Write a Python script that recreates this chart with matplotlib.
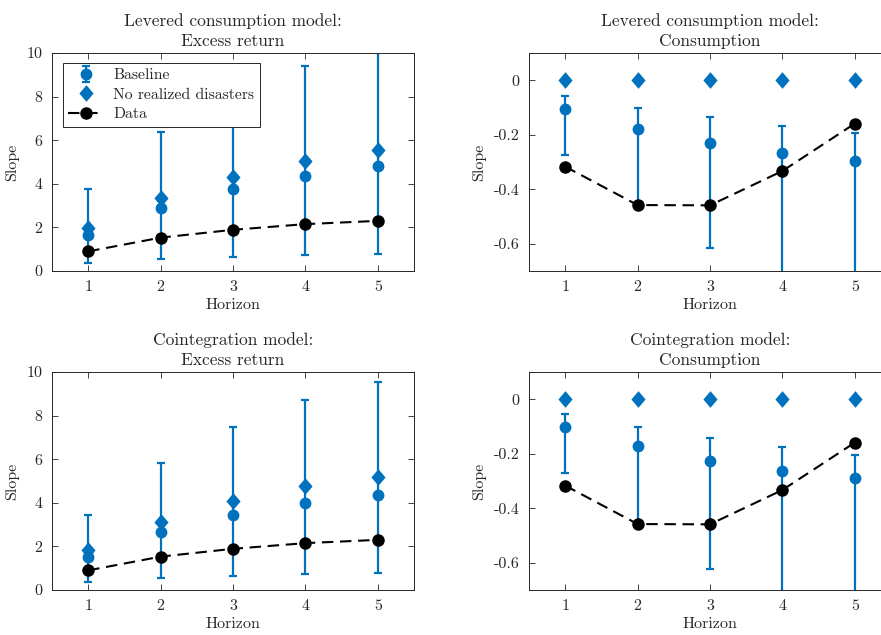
"""
Slopes by horizon: model simulations vs. data
"""
import numpy as np
import matplotlib
matplotlib.use('Agg')
import matplotlib.pyplot as plt
from matplotlib.path import Path

# Fonte estilo LaTeX
plt.rcParams['font.family'] = 'serif'
plt.rcParams['font.serif'] = ['cmr10']
plt.rcParams['axes.formatter.use_mathtext'] = True
plt.rcParams['font.size'] = 11.5

azul = '#0072BD'
horizon = [1, 2, 3, 4, 5]

# Dados (mesmos nos dois modelos)
data_ret = [0.90, 1.53, 1.89, 2.15, 2.30]
data_cons = [-0.317, -0.458, -0.459, -0.333, -0.159]

# Levered consumption model
lev_ret_med = [1.67, 2.87, 3.74, 4.36, 4.80]
lev_ret_lo = [0.35, 0.54, 0.66, 0.72, 0.80]
lev_ret_hi = [3.76, 6.37, 8.10, 9.42, 10.60]
lev_ret_nodis = [1.95, 3.33, 4.33, 5.05, 5.55]

lev_cons_med = [-0.105, -0.178, -0.232, -0.268, -0.295]
lev_cons_lo = [-0.273, -0.465, -0.616, -0.85, -0.85]
lev_cons_hi = [-0.057, -0.100, -0.134, -0.167, -0.193]
lev_cons_nodis = [0.0, 0.0, 0.0, 0.0, 0.0]

# Cointegration model
coi_ret_med = [1.53, 2.65, 3.42, 3.97, 4.36]
coi_ret_lo = [0.35, 0.57, 0.66, 0.72, 0.77]
coi_ret_hi = [3.45, 5.83, 7.48, 8.70, 9.52]
coi_ret_nodis = [1.84, 3.14, 4.10, 4.77, 5.20]

coi_cons_med = [-0.101, -0.172, -0.225, -0.264, -0.289]
coi_cons_lo = [-0.272, -0.473, -0.622, -0.85, -0.85]
coi_cons_hi = [-0.055, -0.101, -0.143, -0.176, -0.205]
coi_cons_nodis = [0.0, 0.0, 0.0, 0.0, 0.0]

ret_ticks = [0, 2, 4, 6, 8, 10]
ret_labels = ['0', '2', '4', '6', '8', '10']
cons_ticks = [0, -0.2, -0.4, -0.6]
cons_labels = ['0', '-0.2', '-0.4', '-0.6']

# losango um pouco mais alto que largo
losango = Path([(0, 1), (0.85, 0), (0, -1), (-0.85, 0), (0, 1)],
               [Path.MOVETO, Path.LINETO, Path.LINETO, Path.LINETO, Path.CLOSEPOLY])


def painel(ax, med, lo, hi, nodis, data, titulo, yticks, ylabels, ylim):
    med = np.array(med)
    err = [med - np.array(lo), np.array(hi) - med]
    hb = ax.errorbar(horizon, med, yerr=err, fmt='o', color=azul, ms=7.5,
                     elinewidth=1.6, capsize=2.8, capthick=1.6, zorder=2)
    hd, = ax.plot(horizon, nodis, ls='none', marker=losango, color=azul,
                  ms=12, mew=0, zorder=3)
    hk, = ax.plot(horizon, data, '--o', color='k', lw=1.5, ms=8,
                  dashes=(5.5, 3.2), zorder=4)
    ax.set_xlim(0.5, 5.5)
    ax.set_ylim(*ylim)
    ax.set_xticks(horizon)
    ax.set_xticklabels([str(h) for h in horizon])
    ax.set_yticks(yticks)
    ax.set_yticklabels(ylabels)
    ax.tick_params(direction='in', top=True, right=True, length=4,
                   width=0.6, color='#262626', labelcolor='#262626', pad=7)
    for s in ax.spines.values():
        s.set_linewidth(0.7)
        s.set_color('#262626')
    ax.set_xlabel('Horizon', color='#262626', labelpad=3)
    ax.set_ylabel('Slope', color='#262626', labelpad=5)
    ax.set_title(titulo, color='#262626', fontsize=12.5, linespacing=1.38, pad=5)
    return [hb, hd, hk]


fig = plt.figure(figsize=(8.81, 6.35), dpi=100)
W, H = 881.0, 635.0
ax1 = fig.add_axes([52 / W, (H - 271) / H, 362 / W, 218 / H])
ax2 = fig.add_axes([529 / W, (H - 271) / H, 362 / W, 218 / H])
ax3 = fig.add_axes([52 / W, (H - 590) / H, 362 / W, 218 / H])
ax4 = fig.add_axes([529 / W, (H - 590) / H, 362 / W, 218 / H])

handles = painel(ax1, lev_ret_med, lev_ret_lo, lev_ret_hi, lev_ret_nodis, data_ret,
                 'Levered consumption model:\nExcess return', ret_ticks, ret_labels, (0, 10))
painel(ax2, lev_cons_med, lev_cons_lo, lev_cons_hi, lev_cons_nodis, data_cons,
       'Levered consumption model:\nConsumption', cons_ticks, cons_labels, (-0.7, 0.1))
painel(ax3, coi_ret_med, coi_ret_lo, coi_ret_hi, coi_ret_nodis, data_ret,
       'Cointegration model:\nExcess return', ret_ticks, ret_labels, (0, 10))
painel(ax4, coi_cons_med, coi_cons_lo, coi_cons_hi, coi_cons_nodis, data_cons,
       'Cointegration model:\nConsumption', cons_ticks, cons_labels, (-0.7, 0.1))

leg = ax1.legend(handles, ['Baseline', 'No realized disasters', 'Data'],
                 loc='upper left', bbox_to_anchor=(0.03, 0.955), fancybox=False,
                 framealpha=1, edgecolor='#262626', borderpad=0.35,
                 labelspacing=0.35, handlelength=2.3, handletextpad=0.55,
                 borderaxespad=0.0, fontsize=11.3)
leg.get_frame().set_linewidth(0.7)
for t in leg.get_texts():
    t.set_color('#262626')

fig.savefig('out.png', dpi=100)
